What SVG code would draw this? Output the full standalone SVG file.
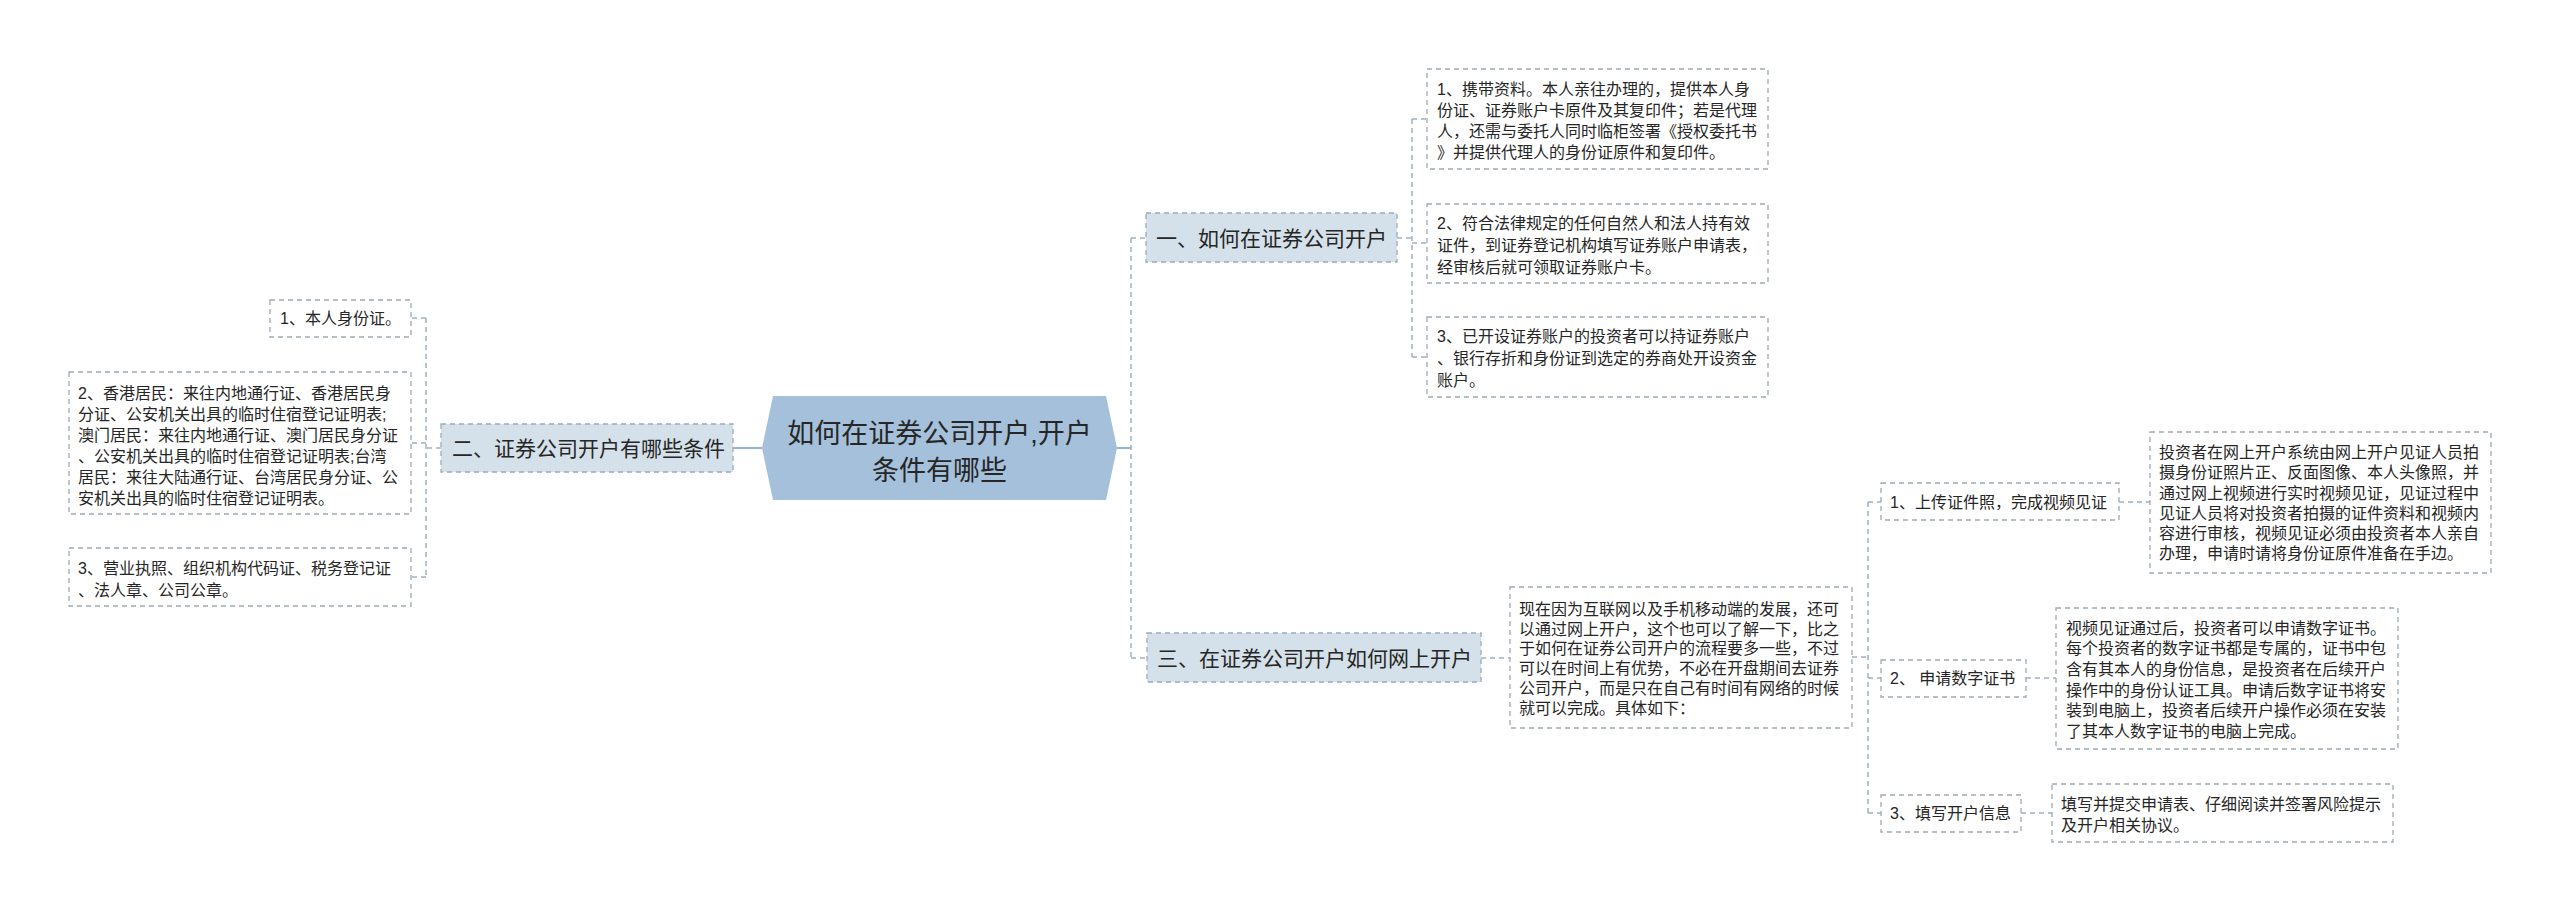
<svg xmlns="http://www.w3.org/2000/svg" width="2560" height="912" viewBox="0 0 2560 912">
<style>
text{font-family:"Liberation Sans","Noto Sans CJK SC",sans-serif;fill:#262626}
.leaf{fill:#ffffff;stroke:#9ea9b4;stroke-width:1.3;stroke-dasharray:5,4}
.sub{fill:#d5e1ea;stroke:#9aabbd;stroke-width:1.3;stroke-dasharray:5,4}
.t16{font-size:16px}
.t21{font-size:21px}
.t27{font-size:27px}
.dash{fill:none;stroke:#9fb0c2;stroke-width:1.5;stroke-dasharray:5,4}
.solid{fill:none;stroke:#9cb5cc;stroke-width:2.2}
</style>
<rect width="2560" height="912" fill="#ffffff"/>
<g id="connectors">
<path class="solid" d="M762,448 H733"/>
<path class="solid" d="M1117,448 H1131"/>
<path class="dash" d="M441,448 H426 M426,318 V577 M426,318 H411 M426,443 H411 M426,577 H411"/>
<path class="dash" d="M1131,238 V658 M1131,238 H1146 M1131,658 H1147"/>
<path class="dash" d="M1397,238 H1412 M1412,119 V357 M1412,119 H1427 M1412,243 H1427 M1412,357 H1427"/>
<path class="dash" d="M1481,658 H1510"/>
<path class="dash" d="M1852,657 H1868 M1868,502 V813 M1868,502 H1881 M1868,678 H1881 M1868,813 H1881"/>
<path class="dash" d="M2119,502 H2150 M2026,678 H2056 M2021,813 H2052"/>
</g>
<g id="center">
<polygon points="762,448 773,396 1106,396 1117,448 1106,500 773,500" fill="#a4c0db"/>
<text class="t27" x="939.5" y="443" text-anchor="middle">如何在证券公司开户,开户</text>
<text class="t27" x="939.5" y="480" text-anchor="middle">条件有哪些</text>
</g>
<g id="node-er">
<rect class="sub" x="441" y="424" width="292" height="48"/>
<text class="t21" x="452" y="456">二、证券公司开户有哪些条件</text>
</g>
<g id="node-er-1">
<rect class="leaf" x="270" y="300" width="141" height="37"/>
<text class="t16" x="280" y="324">1、本人身份证。</text>
</g>
<g id="node-er-2">
<rect class="leaf" x="69" y="372" width="342" height="142"/>
<text class="t16" x="78" y="399">2、香港居民：来往内地通行证、香港居民身</text>
<text class="t16" x="78" y="420">分证、公安机关出具的临时住宿登记证明表;</text>
<text class="t16" x="78" y="441">澳门居民：来往内地通行证、澳门居民身分证</text>
<text class="t16" x="78" y="462">、公安机关出具的临时住宿登记证明表;台湾</text>
<text class="t16" x="78" y="483">居民：来往大陆通行证、台湾居民身分证、公</text>
<text class="t16" x="78" y="504">安机关出具的临时住宿登记证明表。</text>
</g>
<g id="node-er-3">
<rect class="leaf" x="69" y="548" width="342" height="58"/>
<text class="t16" x="78" y="574">3、营业执照、组织机构代码证、税务登记证</text>
<text class="t16" x="78" y="596">、法人章、公司公章。</text>
</g>
<g id="node-yi">
<rect class="sub" x="1146" y="213" width="251" height="49"/>
<text class="t21" x="1156" y="246">一、如何在证券公司开户</text>
</g>
<g id="node-yi-1">
<rect class="leaf" x="1427" y="69" width="341" height="100"/>
<text class="t16" x="1437" y="95">1、携带资料。本人亲往办理的，提供本人身</text>
<text class="t16" x="1437" y="116">份证、证券账户卡原件及其复印件；若是代理</text>
<text class="t16" x="1437" y="137">人，还需与委托人同时临柜签署《授权委托书</text>
<text class="t16" x="1437" y="158">》并提供代理人的身份证原件和复印件。</text>
</g>
<g id="node-yi-2">
<rect class="leaf" x="1427" y="204" width="341" height="79"/>
<text class="t16" x="1437" y="229">2、符合法律规定的任何自然人和法人持有效</text>
<text class="t16" x="1437" y="251">证件，到证券登记机构填写证券账户申请表，</text>
<text class="t16" x="1437" y="273">经审核后就可领取证券账户卡。</text>
</g>
<g id="node-yi-3">
<rect class="leaf" x="1427" y="317" width="341" height="80"/>
<text class="t16" x="1437" y="342">3、已开设证券账户的投资者可以持证券账户</text>
<text class="t16" x="1437" y="364">、银行存折和身份证到选定的券商处开设资金</text>
<text class="t16" x="1437" y="386">账户。</text>
</g>
<g id="node-san">
<rect class="sub" x="1147" y="633" width="334" height="49"/>
<text class="t21" x="1157" y="666">三、在证券公司开户如何网上开户</text>
</g>
<g id="node-san-intro">
<rect class="leaf" x="1510" y="587" width="342" height="141"/>
<text class="t16" x="1519" y="615">现在因为互联网以及手机移动端的发展，还可</text>
<text class="t16" x="1519" y="635">以通过网上开户，这个也可以了解一下，比之</text>
<text class="t16" x="1519" y="654">于如何在证券公司开户的流程要多一些，不过</text>
<text class="t16" x="1519" y="674">可以在时间上有优势，不必在开盘期间去证券</text>
<text class="t16" x="1519" y="694">公司开户，而是只在自己有时间有网络的时候</text>
<text class="t16" x="1519" y="714">就可以完成。具体如下：</text>
</g>
<g id="node-step-1">
<rect class="leaf" x="1881" y="483" width="238" height="37"/>
<text class="t16" x="1890" y="508">1、上传证件照，完成视频见证</text>
</g>
<g id="node-step-1-detail">
<rect class="leaf" x="2150" y="432" width="341" height="141"/>
<text class="t16" x="2159" y="458">投资者在网上开户系统由网上开户见证人员拍</text>
<text class="t16" x="2159" y="478">摄身份证照片正、反面图像、本人头像照，并</text>
<text class="t16" x="2159" y="499">通过网上视频进行实时视频见证，见证过程中</text>
<text class="t16" x="2159" y="519">见证人员将对投资者拍摄的证件资料和视频内</text>
<text class="t16" x="2159" y="539">容进行审核，视频见证必须由投资者本人亲自</text>
<text class="t16" x="2159" y="559">办理，申请时请将身份证原件准备在手边。</text>
</g>
<g id="node-step-2">
<rect class="leaf" x="1881" y="660" width="145" height="37"/>
<text class="t16" x="1890" y="684">2、 申请数字证书</text>
</g>
<g id="node-step-2-detail">
<rect class="leaf" x="2056" y="608" width="342" height="141"/>
<text class="t16" x="2066" y="634">视频见证通过后，投资者可以申请数字证书。</text>
<text class="t16" x="2066" y="654">每个投资者的数字证书都是专属的，证书中包</text>
<text class="t16" x="2066" y="675">含有其本人的身份信息，是投资者在后续开户</text>
<text class="t16" x="2066" y="696">操作中的身份认证工具。申请后数字证书将安</text>
<text class="t16" x="2066" y="716">装到电脑上，投资者后续开户操作必须在安装</text>
<text class="t16" x="2066" y="737">了其本人数字证书的电脑上完成。</text>
</g>
<g id="node-step-3">
<rect class="leaf" x="1881" y="795" width="140" height="37"/>
<text class="t16" x="1890" y="819">3、填写开户信息</text>
</g>
<g id="node-step-3-detail">
<rect class="leaf" x="2052" y="784" width="341" height="58"/>
<text class="t16" x="2061" y="810">填写并提交申请表、仔细阅读并签署风险提示</text>
<text class="t16" x="2061" y="831">及开户相关协议。</text>
</g>
</svg>
